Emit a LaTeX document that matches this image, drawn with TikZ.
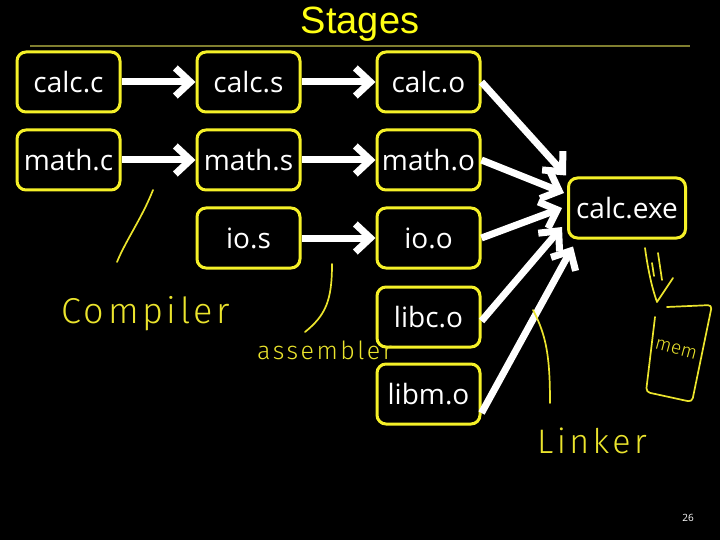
\documentclass[tikz,border=0pt]{standalone}
\usepackage{fontspec}
\setmainfont{Open Sans}
\newfontfamily\titlefont{Liberation Sans}
\newfontfamily\hand[LetterSpace=10]{Fira Sans Light}
\newfontfamily\handsmall{Fira Sans Light}
\usetikzlibrary{arrows.meta,calc}
\definecolor{boxy}{RGB}{245,240,40}
\definecolor{handy}{RGB}{235,228,45}
\definecolor{titley}{RGB}{255,255,20}
\definecolor{ruleol}{RGB}{128,126,48}
\begin{document}
\begin{tikzpicture}[x=1pt,y=-1pt,
  box/.style={draw=boxy, line width=3pt, rounded corners=9pt, minimum width=103pt,
    minimum height=60pt, inner sep=0pt, text=white, font=\fontsize{28}{30}\selectfont},
  arr/.style={draw=white, line width=7pt, -{Straight Barb[length=15pt,width=28pt]}},
  hw/.style={draw=handy, line width=1.7pt, line cap=round, line join=round},
  handtext/.style={text=handy, inner sep=0pt}]
\fill[black] (0,0) rectangle (720,540);
\useasboundingbox (0,0) rectangle (720,540);
% title
\node[text=titley, font=\titlefont\fontsize{38}{42}\selectfont, inner sep=0pt, anchor=base] (title) at (360,34) {Stages};
\draw[ruleol, line width=2pt] (30,46.5) -- (690,46.5);
% boxes
\node[box] (calcc) at (68.5,82) {calc.c};
\node[box] (calcs) at (248.5,82) {calc.s};
\node[box] (calco) at (428.5,82) {calc.o};
\node[box] (mathc) at (68.5,160) {math.c};
\node[box] (maths) at (248.5,160) {math.s};
\node[box] (matho) at (428.5,160) {math.o};
\node[box] (ios) at (248.5,238) {io.s};
\node[box] (ioo) at (428.5,238) {io.o};
\node[box] (libco) at (428.5,317) {libc.o};
\node[box] (libmo) at (428.5,394) {libm.o};
\node[box, minimum width=117pt] (calcexe) at (627,208) {calc.exe};
% arrows
\draw[arr] (calcc) -- (calcs);
\draw[arr] (calcs) -- (calco);
\draw[arr] (mathc) -- (maths);
\draw[arr] (maths) -- (matho);
\draw[arr] (ios) -- (ioo);
\draw[arr] (calco.east) -- ([shift={(-1,-1)}]calcexe.north west);
\draw[arr] (matho.east) -- ([shift={(-3,-15)}]calcexe.west);
\draw[arr] (ioo.east) -- ([shift={(-5,0)}]calcexe.west);
\draw[arr] ([yshift=-4]libco.east) -- ([shift={(-5,19)}]calcexe.west);
\draw[arr] ([yshift=-19]libmo.east) -- ([shift={(6,7)}]calcexe.south west);
% handwritten annotations
\draw[hw] (153,190) .. controls (142,218) and (126,240) .. (117,262);
\node[handtext, font=\hand\fontsize{36}{38}\selectfont, anchor=base west] (compiler) at (61,323) {Compiler};
\draw[hw] (332,264) .. controls (332,300) and (326,315) .. (305,332);
\node[handtext, font=\hand\fontsize{25}{27}\selectfont, anchor=base west] (assembler) at (257,359) {assembler};
\draw[hw] (533,310) .. controls (546,335) and (550,355) .. (550,403);
\node[handtext, font=\hand\fontsize{34}{36}\selectfont, anchor=base west] (linker) at (537,453) {Linker};
% arrow to mem
\draw[hw] (645,248) .. controls (648,270) and (652,288) .. (657,302) -- (673,278);
\draw[hw] (652,263) -- (654,276);
\draw[hw] (658,253) -- (662,280);
% mem box
\draw[hw, rounded corners=4pt] (655,317) -- (646,392) -- (692,402) -- (712,305) -- (667,307);
\node[handtext, font=\handsmall\fontsize{19}{20}\selectfont, rotate=-15] (mem) at (676,349) {mem};
% page number
\node[text=white, font=\fontsize{10}{12}\selectfont] (pg) at (688,518) {26};
\end{tikzpicture}
\end{document}
